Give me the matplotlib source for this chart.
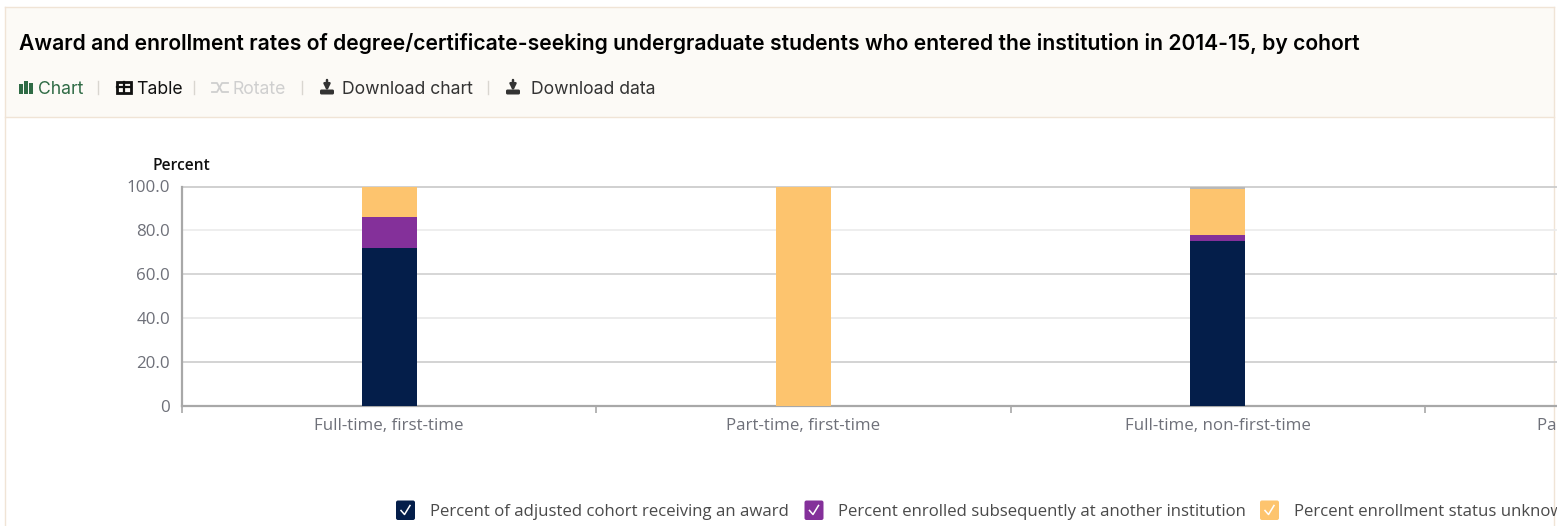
import matplotlib
matplotlib.use("Agg")
import matplotlib.pyplot as plt
import numpy as np
from matplotlib.patches import Rectangle, FancyBboxPatch

# Data
cohorts = ["Full-time, first-time", "Part-time, first-time", "Full-time, non-first-time", "Part-time, non-first-time"]
award = [72.0, 0.0, 75.0, 0.0]
enrolled_other = [14.0, 0.0, 3.0, 0.0]
status_unknown = [14.0, 100.0, 21.0, 100.0]
still_enrolled = [0.0, 0.0, 1.0, 0.0]
y_ticks = [0, 20, 40, 60, 80, 100]
y_labels = ["0", "20.0", "40.0", "60.0", "80.0", "100.0"]
series_names = ["Percent of adjusted cohort receiving an award",
                "Percent enrolled subsequently at another institution",
                "Percent enrollment status unknown"]
series_colors = ["#041E4A", "#84309A", "#FDC46E", "#B8B8B8"]
grid_colors = ["#CCCCCC", "#E8E8E8", "#D0D0D0", "#EBEBEB", "#C8C8C8"]

W, H = 1557, 526
fig = plt.figure(figsize=(W / 100, H / 100), dpi=100, facecolor="white")

# overlay in pixel coords, for the page furniture
ui = fig.add_axes([0, 0, 1, 1], zorder=0)
ui.set_xlim(0, W)
ui.set_ylim(H, 0)
ui.axis("off")

ui.add_patch(Rectangle((5, 7), 1549, 110, fc="#FCFAF6", ec="none"))
ui.plot([5, 1554], [7, 7], color="#F0E4D6", lw=1)
ui.plot([5, 1554], [117, 117], color="#F0E4D6", lw=1)
ui.plot([5, 5], [7, H], color="#F0E4D6", lw=1)
ui.plot([1554.5, 1554.5], [7, H], color="#F0E4D6", lw=1)

ui.text(19, 44, "Award and enrollment rates of degree/certificate-seeking undergraduate students who entered the institution in 2014-15, by cohort",
        fontsize=15.2, family="Inter", fontweight="semibold", color="#000000", va="center", ha="left")

# toolbar
tool_font = dict(fontsize=12.7, family="Inter", va="center", ha="left")
ui.text(38, 89, "Chart", color="#2F6B45", **tool_font)
ui.text(136, 89, "Table", color="#111111", **tool_font)
ui.text(233, 89, "Rotate", color="#CFCFCF", **tool_font)
ui.text(342, 89, "Download chart", color="#333333", **tool_font)
ui.text(531, 89, "Download data", color="#333333", **tool_font)
for sep_x in [98, 194, 302, 488]:
    ui.plot([sep_x, sep_x], [81, 94], color="#D9D6D0", lw=1)

# chart icon
for bx, top in [(19, 84), (24, 80.5), (29, 83)]:
    ui.add_patch(Rectangle((bx, top), 3.8, 93.5 - top, fc="#2F6B45", ec="none"))
# table icon
ui.add_patch(Rectangle((117, 81.5), 14, 11, fc="none", ec="#111111", lw=2))
ui.plot([117, 131], [87, 87], color="#111111", lw=1.6)
ui.plot([124, 124], [81.5, 92.5], color="#111111", lw=1.6)
# rotate icon
ui.plot([212, 217, 222, 228], [83, 83, 92, 92], color="#CFCFCF", lw=1.3)
ui.plot([212, 217, 222, 228], [92, 92, 83, 83], color="#CFCFCF", lw=1.3)
# download icons
for ix in [327, 513]:
    ui.add_patch(FancyBboxPatch((ix - 7, 89.5), 14, 5, boxstyle="round,pad=0,rounding_size=1.5", fc="#333333", ec="none"))
    ui.annotate("", xy=(ix, 91), xytext=(ix, 80), arrowprops=dict(arrowstyle="-|>", color="#333333", lw=1.8, mutation_scale=9, shrinkA=0, shrinkB=0))

# chart, runs past the right edge like the original
left, right, top, bottom = 181.8, 1839.5, 186.5, 405.5
ax = fig.add_axes([left / W, 1 - bottom / H, (right - left) / W, (bottom - top) / H], zorder=1)
ax.patch.set_alpha(0)
x = np.arange(len(cohorts))
bar_w = 55 / 414.5
bar_style = dict(width=bar_w, edgecolor="none", linewidth=0, zorder=3)
base = np.zeros(len(cohorts))
for vals, col in zip([award, enrolled_other, status_unknown, still_enrolled], series_colors):
    ax.bar(x, vals, bottom=base, color=col, **bar_style)
    base = base + np.array(vals)

ax.set_xlim(-0.5, 3.5)
ax.set_ylim(0, 100)
for tick, col in zip(y_ticks[1:], grid_colors):
    ax.axhline(tick, color=col, lw=1.2, zorder=1, clip_on=False)
ax.set_yticks(y_ticks)
ax.set_yticklabels(y_labels)
ax.set_xticks(x)
ax.set_xticklabels(cohorts)
ax.set_xticks(np.arange(-0.5, 4, 1), minor=True)
ax.tick_params(axis="y", length=0, pad=8.5, labelsize=12.2, labelcolor="#6E7079")
ax.tick_params(axis="x", which="major", length=0, pad=9, labelsize=12.2, labelcolor="#6E7079")
ax.tick_params(axis="x", which="minor", length=5, width=1.2, color="#A8A8A8")
for lab in ax.get_xticklabels() + ax.get_yticklabels():
    lab.set_family("Open Sans")
for s in ["top", "right"]:
    ax.spines[s].set_visible(False)
for s in ["left", "bottom"]:
    ax.spines[s].set_color("#A8A8A8")
    ax.spines[s].set_linewidth(1.6)

ui.text(153, 166, "Percent", fontsize=11.2, family="Open Sans", fontweight="semibold", color="#111111", va="center", ha="left")

# legend
box_x = [396, 804.5, 1260]
text_x = [430, 838.5, 1294]
for bx, tx, name, col in zip(box_x, text_x, series_names, series_colors):
    ui.add_patch(FancyBboxPatch((bx, 500.5), 19, 19.5, boxstyle="round,pad=0,rounding_size=2", fc=col, ec="none"))
    ui.plot([bx + 5, bx + 8.5, bx + 14], [510.5, 514.5, 505.5], color="white", lw=1.1)
    ui.text(tx, 512, name, fontsize=12.05, family="Open Sans", color="#4A4A4A", va="center", ha="left")

fig.savefig("out.png", dpi=100, facecolor="white")
